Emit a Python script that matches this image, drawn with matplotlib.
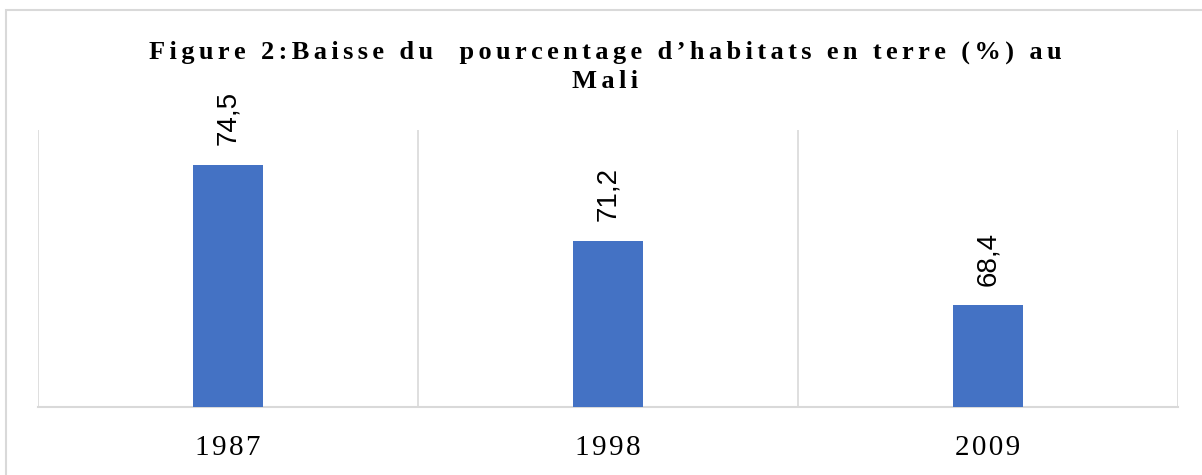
import matplotlib.pyplot as plt
from matplotlib.patches import Rectangle

# data
years = ["1987", "1998", "2009"]
values = [74.5, 71.2, 68.4]
labels = ["74,5", "71,2", "68,4"]

title = "Figure 2:Baisse du  pourcentage d\u2019habitats en terre (%) au\nMali"


def spaced(s, sep="\u200a"):
    # fake letter spacing with narrow spaces
    return sep.join(s)


def main():
    fig = plt.figure(figsize=(12.02, 4.75), dpi=100)
    grey = "#D9D9D9"

    # outer chart frame
    fig.patches.append(Rectangle((6 / 1202, -0.1), 1.2, 1 - 10 / 475 + 0.1,
                                 transform=fig.transFigure, fill=False,
                                 edgecolor=grey, linewidth=1.5))

    ax = fig.add_axes([38 / 1202, 1 - 407 / 475, (1178 - 38) / 1202, (407 - 130) / 475])
    x = range(len(years))
    ax.bar(x, values, width=0.184, color="#4472C4", zorder=3)
    ax.set_xlim(-0.5, 2.5)
    ax.set_ylim(64, 76)

    for sp in ["top", "left", "right"]:
        ax.spines[sp].set_visible(False)
    ax.spines["bottom"].set_color(grey)
    ax.spines["bottom"].set_linewidth(1.5)
    ax.set_yticks([])
    for b in [-0.5, 0.5, 1.5, 2.5]:
        ax.axvline(b, color=grey, linewidth=1.2, zorder=1)

    ax.set_xticks(list(x))
    ax.set_xticklabels([spaced(y) for y in years],
                       family=["Liberation Serif", "DejaVu Serif"], fontsize=21)
    ax.tick_params(axis="x", length=0, pad=20)

    for i, v in enumerate(values):
        ax.annotate(labels[i], (i, v), xytext=(0, 14), textcoords="offset points",
                    rotation=90, ha="center", va="bottom",
                    family="Liberation Sans", fontsize=20)

    lines = title.split("\n")
    for k, line in enumerate(lines):
        fig.text(605 / 1202, 1 - (52 + 30 * k) / 475, spaced(line, "\u2006"),
                 ha="center", va="center",
                 family=["Liberation Serif", "DejaVu Serif"], fontweight="bold",
                 fontsize=19)

    fig.savefig("out.png", dpi=100)


main()
